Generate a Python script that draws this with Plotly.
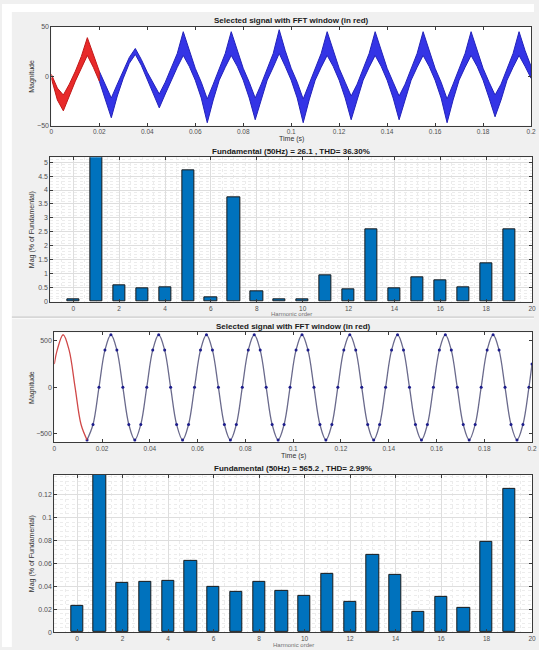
import plotly.graph_objects as go
import numpy as np

W, H = 539, 650
FONT = "Liberation Sans, Arial, sans-serif"

# ---------------- data ----------------
# Signal 1 (distorted), centre line read every 2.5 ms, plus ripple half-band
sig1_step = 0.0025
sig1_center = [0, -18, -27, -14, 0, 14, 30, 16,
               0, -16, -32, -14, 2, 16, 25, 14,
               0, -12, -25, -12, 2, 16, 33, 18,
               2, -14, -35, -16, 2, 16, 33, 18,
               2, -14, -33, -16, 2, 16, 35, 18,
               2, -14, -35, -16, 2, 16, 33, 18,
               2, -14, -32, -16, 2, 16, 33, 18,
               2, -14, -32, -16, 2, 16, 33, 18,
               2, -14, -35, -16, 2, 16, 33, 18,
               2, -14, -30, -16, 2, 16, 33, 18,
               4]
sig1_ripple = [2, 6, 8, 6, 5, 6, 9, 7,
               5, 7, 10, 6, 4, 3, 3, 3,
               4, 5, 7, 6, 6, 7, 12, 8,
               6, 8, 12, 8, 6, 7, 12, 8,
               6, 8, 11, 8, 6, 7, 12, 8,
               6, 8, 12, 8, 6, 7, 12, 8,
               6, 8, 12, 8, 6, 7, 12, 8,
               6, 8, 12, 8, 6, 7, 12, 8,
               6, 8, 12, 8, 6, 7, 12, 8,
               6, 8, 11, 8, 6, 7, 12, 8,
               6]
sig1_window_end = 0.02

# Signal 2 (clean sine), points read at start, every 1/8 cycle from 1.2 ms, and end
sig2_t = [0.0] + [round(0.0012 + 0.0025 * k, 4) for k in range(80)] + [0.2]
sig2_v = ([250] +
          [400, 565, 400, 0, -400, -565, -400, 0,
           400, 565, 400, 0, -400, -565, -400, 0,
           400, 565, 400, 0, -400, -565, -400, 0,
           400, 565, 400, 0, -400, -565, -400, 0,
           400, 565, 400, 0, -400, -565, -400, 0,
           400, 565, 400, 0, -400, -565, -400, 0,
           400, 565, 400, 0, -400, -565, -400, 0,
           400, 565, 400, 0, -400, -565, -400, 0,
           400, 565, 400, 0, -400, -565, -400, 0,
           400, 565, 400, 0, -400, -565, -400, 0] +
          [250])
sig2_window_end = 0.015

harm_order = list(range(20))
mag1 = [0.08, 100, 0.58, 0.47, 0.51, 4.70, 0.15, 3.74, 0.38, 0.09,
        0.07, 0.95, 0.45, 2.59, 0.48, 0.89, 0.76, 0.51, 1.36, 2.61]
mag2 = [0.0232, 100, 0.0433, 0.0441, 0.0450, 0.0620, 0.0399, 0.0354, 0.0441, 0.0359,
        0.0320, 0.0509, 0.0266, 0.0673, 0.0501, 0.0181, 0.0311, 0.0209, 0.0792, 0.1250]

title_sig = "Selected signal with FFT window (in red)"
title_fft1 = "Fundamental (50Hz) = 26.1 , THD= 36.30%"
title_fft2 = "Fundamental (50Hz) = 565.2 , THD= 2.99%"

time_ticks = [0, 0.02, 0.04, 0.06, 0.08, 0.1, 0.12, 0.14, 0.16, 0.18, 0.2]
time_labels = ["0", "0.02", "0.04", "0.06", "0.08", "0.1", "0.12", "0.14", "0.16", "0.18", "0.2"]
harm_ticks = [0, 2, 4, 6, 8, 10, 12, 14, 16, 18, 20]
fft1_yticks = [0, 0.5, 1, 1.5, 2, 2.5, 3, 3.5, 4, 4.5, 5]
fft1_ylabels = ["0", "0.5", "1", "1.5", "2", "2.5", "3", "3.5", "4", "4.5", "5"]
fft2_yticks = [0, 0.02, 0.04, 0.06, 0.08, 0.1, 0.12]
fft2_ylabels = ["0", "0.02", "0.04", "0.06", "0.08", "0.1", "0.12"]

# ---------------- helpers ----------------
def px(x):
    return x / W

def py(y):
    return 1 - y / H

# panel boxes in pixels (left, right, top, bottom)
boxes = {
    1: (50, 536, 23, 123),
    2: (49, 537, 155, 301),
    3: (53, 537, 332, 443),
    4: (53, 537, 476, 635),
}

fig = go.Figure()

# ---- signal 1 ----
t1 = np.arange(len(sig1_center)) * sig1_step
c1 = np.array(sig1_center, float)
r1 = np.array(sig1_ripple, float)
up1 = c1 + r1
lo1 = c1 - r1
red_mask = t1 <= sig1_window_end + 1e-9
blue_mask = t1 >= sig1_window_end - 1e-9
for mask, fillc, linec in [(blue_mask, "#3434e6", "#2222b8"), (red_mask, "#e82a2a", "#c01818")]:
    tt = t1[mask]
    xs = np.concatenate([tt, tt[::-1]])
    ys = np.concatenate([up1[mask], lo1[mask][::-1]])
    fig.add_trace(go.Scatter(x=xs, y=ys, fill="toself", fillcolor=fillc,
                             line=dict(color=linec, width=1), mode="lines",
                             xaxis="x", yaxis="y", showlegend=False, hoverinfo="skip"))

# ---- FFT 1 ----
fig.add_trace(go.Bar(x=harm_order, y=mag1, width=0.53,
                     marker=dict(color="#0072BD", line=dict(color="#1a1a1a", width=1)),
                     xaxis="x2", yaxis="y2", showlegend=False))

# ---- signal 2 ----
t2 = np.array(sig2_t)
v2 = np.array(sig2_v, float)
m_red = t2 <= sig2_window_end
m_blue = t2 >= 0.0137
fig.add_trace(go.Scatter(x=t2[m_blue], y=v2[m_blue], mode="lines+markers",
                         line=dict(color="#6a6a8c", width=1.3, shape="spline", smoothing=1.0),
                         marker=dict(color="#1c1c8c", size=3),
                         xaxis="x3", yaxis="y3", showlegend=False))
fig.add_trace(go.Scatter(x=t2[m_red], y=v2[m_red], mode="lines",
                         line=dict(color="#d04848", width=1.3, shape="spline", smoothing=1.0),
                         xaxis="x3", yaxis="y3", showlegend=False))

# ---- FFT 2 ----
fig.add_trace(go.Bar(x=harm_order, y=mag2, width=0.53,
                     marker=dict(color="#0072BD", line=dict(color="#1a1a1a", width=1)),
                     xaxis="x4", yaxis="y4", showlegend=False))

tickfont = dict(family=FONT, size=7, color="#505050")
common = dict(showline=True, linecolor="#3a3a3a", linewidth=1, mirror="allticks",
              ticks="inside", ticklen=3, tickcolor="#3a3a3a", tickfont=tickfont,
              zeroline=False, ticklabeloverflow="allow")

def dom(i):
    l, r, t, b = boxes[i]
    return [px(l), px(r)], [py(b), py(t)]

layout = dict(width=W, height=H, margin=dict(l=0, r=0, t=0, b=0),
              paper_bgcolor="#f0f0f0", plot_bgcolor="white",
              font=dict(family=FONT), bargap=0)

xd, yd = dom(1)
layout["xaxis"] = dict(domain=xd, range=[0, 0.2], tickvals=time_ticks, ticktext=time_labels,
                       showgrid=False, anchor="y", **common)
layout["yaxis"] = dict(domain=yd, range=[-50, 50], tickvals=[-50, 0, 50], showgrid=False,
                       anchor="x", **common)

grid = dict(showgrid=True, gridcolor="#dedede", gridwidth=1)
xd, yd = dom(2)
layout["xaxis2"] = dict(domain=xd, range=[-1, 20], tickvals=harm_ticks, anchor="y2",
                        minor=dict(dtick=0.5, tick0=0, showgrid=True, gridcolor="#ececec", griddash="dot"),
                        **grid, **common)
layout["yaxis2"] = dict(domain=yd, range=[0, 5.17], tickvals=fft1_yticks, ticktext=fft1_ylabels,
                        anchor="x2",
                        minor=dict(dtick=0.1, tick0=0, showgrid=True, gridcolor="#ececec", griddash="dot"),
                        **grid, **common)

xd, yd = dom(3)
layout["xaxis3"] = dict(domain=xd, range=[0, 0.2], tickvals=time_ticks, ticktext=time_labels,
                        showgrid=False, anchor="y3", **common)
layout["yaxis3"] = dict(domain=yd, range=[-590, 590], tickvals=[-500, 0, 500], showgrid=False,
                        anchor="x3", **common)

xd, yd = dom(4)
layout["xaxis4"] = dict(domain=xd, range=[-1, 20], tickvals=harm_ticks, anchor="y4",
                        minor=dict(dtick=0.5, tick0=0, showgrid=True, gridcolor="#ececec", griddash="dot"),
                        **grid, **common)
layout["yaxis4"] = dict(domain=yd, range=[0, 0.1375], tickvals=fft2_yticks, ticktext=fft2_ylabels,
                        anchor="x4",
                        minor=dict(dtick=0.004, tick0=0, showgrid=True, gridcolor="#ececec", griddash="dot"),
                        **grid, **common)

fig.update_layout(**layout)

# ---- decorations: white border strips and separator ----
fig.add_shape(type="rect", xref="paper", yref="paper", x0=0, x1=px(10), y0=0, y1=1,
              fillcolor="white", line=dict(width=0), layer="below")
fig.add_shape(type="rect", xref="paper", yref="paper", x0=0, x1=1, y0=py(8), y1=1,
              fillcolor="white", line=dict(width=0), layer="below")
fig.add_shape(type="line", xref="paper", yref="paper", x0=px(10), x1=1, y0=py(316.5), y1=py(316.5),
              line=dict(color="#c4c4c4", width=1), layer="below")
fig.add_shape(type="line", xref="paper", yref="paper", x0=px(10), x1=1, y0=py(318), y1=py(318),
              line=dict(color="#fafafa", width=1), layer="below")

# ---- titles / labels ----
def ann(text, x, y, size=7, bold=False, angle=0, color="#303030"):
    if bold:
        text = "<b>" + text + "</b>"
    fig.add_annotation(text=text, x=px(x), y=py(y), xref="paper", yref="paper",
                       showarrow=False, textangle=angle, xanchor="center", yanchor="middle",
                       font=dict(family=FONT, size=size, color=color))

for i, t in [(1, title_sig), (2, title_fft1), (3, title_sig), (4, title_fft2)]:
    l, r, tp, b = boxes[i]
    ann(t, (l + r) / 2, tp - 6, size=8, bold=True, color="#1a1a1a")

ann("Time (s)", (50 + 536) / 2, 136, size=7)
ann("Time (s)", (53 + 537) / 2, 457, size=7)
ann("Harmonic order", (49 + 537) / 2, 313.5, size=6, color="#707070")
ann("Harmonic order", (53 + 537) / 2, 647.5, size=6, color="#707070")
ann("Magnitude", 31, (23 + 123) / 2, size=7, angle=-90)
ann("Magnitude", 31, (332 + 443) / 2, size=7, angle=-90)
ann("Mag (% of Fundamental)", 30, (155 + 301) / 2, size=7, angle=-90)
ann("Mag (% of Fundamental)", 30, (476 + 635) / 2, size=7, angle=-90)

fig.update_xaxes(tickfont=dict(size=6.5))

fig.write_html("out.html", config={"displayModeBar": False},
               post_script="document.body.style.margin='0';document.body.style.overflow='hidden';")
